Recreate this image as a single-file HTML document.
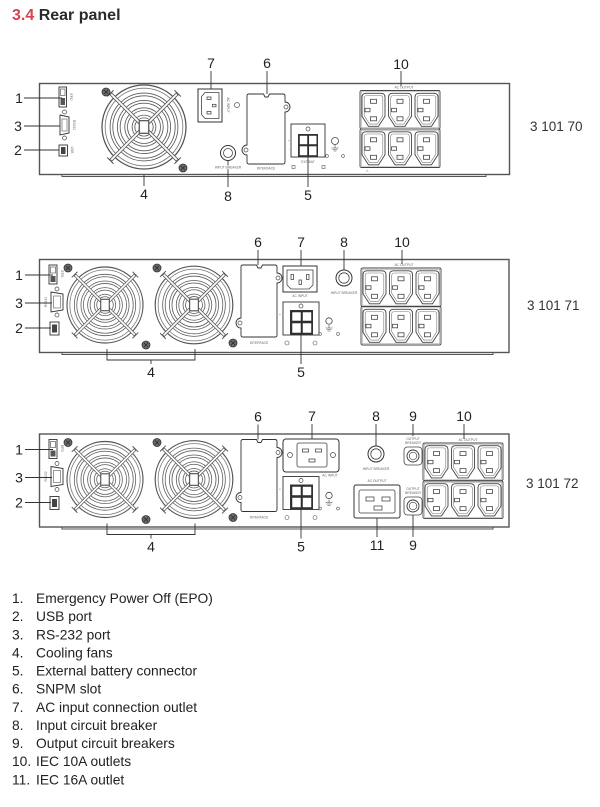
<!DOCTYPE html>
<html><head><meta charset="utf-8">
<style>
html,body{margin:0;padding:0;background:#fff;width:600px;height:807px;overflow:hidden}
svg{display:block}
.lb{font-size:14px;fill:#222;text-anchor:middle}
.tn{font-size:3.3px;fill:#666;text-anchor:middle}
.ln{stroke:#333;stroke-width:0.9;fill:none}
.li{font-size:13.8px;fill:#222}
</style></head><body>
<svg width="600" height="807" viewBox="0 0 600 807" xmlns="http://www.w3.org/2000/svg" font-family="Liberation Sans, Arial, sans-serif">
<defs>
 <g id="fan">
  <circle r="40" fill="#fff" stroke="#555" stroke-width="1.2"/>
  <circle r="37" fill="none" stroke="#777" stroke-width="0.8"/>
  <g fill="none" stroke="#5a5a5a" stroke-width="3.4">
   <circle r="31"/><circle r="24"/><circle r="17"/><circle r="10"/>
  </g>
  <g fill="none" stroke="#fff" stroke-width="1.8">
   <circle r="31"/><circle r="24"/><circle r="17"/><circle r="10"/>
  </g>
  <g stroke="#5a5a5a" stroke-width="3.4">
   <line x1="-32" y1="-32" x2="32" y2="32"/><line x1="32" y1="-32" x2="-32" y2="32"/>
  </g>
  <g stroke="#fff" stroke-width="1.8">
   <line x1="-31.3" y1="-31.3" x2="31.3" y2="31.3"/><line x1="31.3" y1="-31.3" x2="-31.3" y2="31.3"/>
  </g>
  <g stroke="#555" stroke-width="1">
   <line x1="-35" y1="-29" x2="-29" y2="-35"/><line x1="35" y1="29" x2="29" y2="35"/>
   <line x1="35" y1="-29" x2="29" y2="-35"/><line x1="-35" y1="29" x2="-29" y2="35"/>
  </g>
  <rect x="-4.5" y="-6" width="9" height="12" fill="#fff" stroke="#555" stroke-width="1.2"/>
 </g>
 <g id="screw"><circle r="4" fill="#6a6a6a" stroke="#333" stroke-width="0.8"/><path d="M-2,-2 L2,2 M2,-2 L-2,2" stroke="#222" stroke-width="0.6"/></g>
 <g id="c13">
  <path d="M4,0 H19 Q23,0 23,4 V23 L16.5,33 H6.5 L0,23 V4 Q0,0 4,0 Z" fill="#fff" stroke="#444" stroke-width="0.9"/>
  <path d="M5,2.2 H18 Q20.8,2.2 20.8,5 V22.4 L15.4,30.8 H7.6 L2.2,22.4 V5 Q2.2,2.2 5,2.2 Z" fill="none" stroke="#777" stroke-width="0.6"/>
  <g fill="#fff" stroke="#444" stroke-width="0.8">
   <rect x="8.5" y="6" width="6" height="4"/>
   <rect x="3" y="15" width="5" height="3.5"/>
   <rect x="8.5" y="23.5" width="6" height="4"/>
  </g>
 </g>
 <g id="orow">
  <rect x="0" y="0" width="80" height="38.5" rx="1.5" fill="#fff" stroke="#444" stroke-width="0.9"/>
  <rect x="1.3" y="1.3" width="77.4" height="35.9" fill="none" stroke="#999" stroke-width="0.5"/>
  <use href="#c13" x="2" y="2.8"/>
  <use href="#c13" x="28.5" y="2.8"/>
  <use href="#c13" x="55" y="2.8"/>
 </g>
 <!-- shared left part for panels 2 & 3 (panel 2 coordinates) -->
 <g id="lp">
  <rect x="39.5" y="259.5" width="469.5" height="93" fill="#fff" stroke="#555" stroke-width="1.4"/>
  <path d="M62,352.5 V354.5 H493 V352.5" fill="none" stroke="#555" stroke-width="1"/>
  <!-- EPO -->
  <rect x="49" y="265" width="8" height="19" fill="#fff" stroke="#333" stroke-width="0.9"/>
  <rect x="50.5" y="267" width="5" height="6" fill="#fff" stroke="#444" stroke-width="0.6"/>
  <rect x="50.5" y="276" width="5" height="6" fill="#555"/>
  <text class="tn" transform="translate(61,274) rotate(90)">EPO</text>
  <line class="ln" x1="25" y1="275" x2="53" y2="275"/>
  <text class="lb" x="19" y="280">1</text>
  <!-- DB9 -->
  <circle cx="57" cy="289" r="2" fill="#fff" stroke="#444" stroke-width="0.7"/>
  <circle cx="57" cy="315" r="2" fill="#fff" stroke="#444" stroke-width="0.7"/>
  <path d="M51,292 L63,294 V310 L51,312 Z" fill="#fff" stroke="#333" stroke-width="0.9"/>
  <rect x="53.5" y="296" width="7" height="12" fill="none" stroke="#555" stroke-width="0.6"/>
  <text class="tn" transform="translate(47,302) rotate(-90)">RS232</text>
  <line class="ln" x1="25" y1="303" x2="52" y2="303"/>
  <text class="lb" x="19" y="308">3</text>
  <!-- USB -->
  <rect x="50" y="322" width="9" height="13" fill="#fff" stroke="#333" stroke-width="0.9"/>
  <rect x="52" y="324.5" width="5" height="8" fill="#444"/>
  <line class="ln" x1="25" y1="328" x2="51" y2="328"/>
  <text class="lb" x="19" y="333">2</text>
  <!-- fans -->
  <use href="#fan" transform="translate(105,305) scale(0.95)"/>
  <use href="#fan" transform="translate(194,305) scale(0.97)"/>
  <use href="#screw" x="68" y="268"/>
  <use href="#screw" x="146" y="345"/>
  <use href="#screw" x="157" y="268"/>
  <use href="#screw" x="233" y="343"/>
  <path class="ln" d="M107,349 V360 H195 V349 M151,360 V364"/>
  <text class="lb" x="151" y="377">4</text>
  <!-- slot -->
  <path d="M243,265 H256.5 L258,268 H261 L262.5,265 H275 Q277,265 277,267 V273 A5,5 0 0 1 277,283 V335 Q277,337 275,337 H243 Q241,337 241,335 V328 A5,5 0 0 1 241,318 V267 Q241,265 243,265 Z" fill="#fff" stroke="#333" stroke-width="0.9"/>
  <circle cx="278" cy="278" r="2" fill="#fff" stroke="#444" stroke-width="0.7"/>
  <circle cx="240" cy="323" r="2" fill="#fff" stroke="#444" stroke-width="0.7"/>
  <text class="tn" x="259" y="344">INTERFACE</text>
  <line class="ln" x1="258" y1="250" x2="258" y2="265"/>
  <text class="lb" x="258" y="247">6</text>
  <!-- battery -->
  <text class="tn" x="280" y="316">+</text>
  <text class="tn" x="280" y="326">-</text>
  <rect x="283" y="302" width="36" height="33" fill="#fff" stroke="#333" stroke-width="0.9"/>
  <circle cx="301" cy="306" r="2" fill="#fff" stroke="#444" stroke-width="0.7"/>
  <rect x="290" y="310" width="23" height="25" fill="#333"/>
  <g fill="#fff" stroke="#222" stroke-width="0.5">
   <rect x="292" y="312" width="9" height="9"/><rect x="302.5" y="312" width="9" height="9"/>
   <rect x="292" y="323" width="9" height="10"/><rect x="302.5" y="323" width="9" height="10"/>
  </g>
  <line class="ln" x1="301" y1="335" x2="301" y2="364"/>
  <text class="lb" x="301" y="377">5</text>
  <!-- ground -->
  <circle cx="329" cy="321" r="3.2" fill="#fff" stroke="#444" stroke-width="0.8"/>
  <path d="M329,325 V328 M325.5,328 H332.5 M326.5,329.5 H331.5 M327.5,331 H330.5" stroke="#444" stroke-width="0.6"/>
  <circle cx="320" cy="334" r="1.4" fill="none" stroke="#555" stroke-width="0.6"/>
  <circle cx="338" cy="334" r="1.4" fill="none" stroke="#555" stroke-width="0.6"/>
  <circle cx="287" cy="343" r="2" fill="none" stroke="#555" stroke-width="0.6"/>
  <circle cx="315" cy="343" r="2" fill="none" stroke="#555" stroke-width="0.6"/>
 </g>
</defs>

<!-- Title -->
<text x="12" y="20" font-size="16" font-weight="bold"><tspan fill="#d6434d">3.4</tspan><tspan fill="#2a2a2a"> Rear panel</tspan></text>

<!-- ================= PANEL 1 ================= -->
<rect x="39.5" y="83.5" width="470" height="91" fill="#fff" stroke="#555" stroke-width="1.4"/>
<path d="M62,174.5 V176.5 H486 V174.5" fill="none" stroke="#555" stroke-width="1"/>
<!-- EPO -->
<rect x="59" y="87" width="7.5" height="20" fill="#fff" stroke="#333" stroke-width="0.9"/>
<rect x="60.5" y="89" width="4.5" height="6.5" fill="#fff" stroke="#444" stroke-width="0.6"/>
<rect x="60.5" y="98" width="4.5" height="7" fill="#555"/>
<text class="tn" transform="translate(70,97) rotate(90)">EPO</text>
<line class="ln" x1="24" y1="98" x2="62" y2="98"/>
<text class="lb" x="19" y="103">1</text>
<!-- DB9 -->
<circle cx="64.5" cy="112" r="2" fill="#fff" stroke="#444" stroke-width="0.7"/>
<circle cx="64.5" cy="138" r="2" fill="#fff" stroke="#444" stroke-width="0.7"/>
<path d="M60,115 L69,117 V133 L60,135 Z" fill="#fff" stroke="#333" stroke-width="0.9"/>
<rect x="62" y="119" width="5" height="12" fill="none" stroke="#555" stroke-width="0.6"/>
<text class="tn" transform="translate(73,125) rotate(90)">RS232</text>
<line class="ln" x1="24" y1="126" x2="60" y2="126"/>
<text class="lb" x="18" y="131">3</text>
<!-- USB -->
<rect x="59" y="145" width="8.5" height="11" fill="#fff" stroke="#333" stroke-width="0.9"/>
<rect x="61" y="147" width="4.5" height="7" fill="#444"/>
<text class="tn" transform="translate(71,150) rotate(90)">USB</text>
<line class="ln" x1="24" y1="150" x2="59" y2="150"/>
<text class="lb" x="18" y="155">2</text>
<!-- fan -->
<use href="#fan" transform="translate(144,127) scale(1.05)"/>
<use href="#screw" x="106" y="92"/>
<use href="#screw" x="183" y="168"/>
<line class="ln" x1="144" y1="175" x2="144" y2="186"/>
<text class="lb" x="144" y="199">4</text>
<!-- AC input 7 -->
<rect x="198" y="89" width="24" height="33" fill="#fff" stroke="#333" stroke-width="1"/>
<path d="M205,92.5 H219 V118.5 H205 L201.5,114.5 V96.5 Z" fill="#fff" stroke="#444" stroke-width="0.8"/>
<g fill="#fff" stroke="#333" stroke-width="0.7">
 <rect x="207" y="97" width="4" height="2.5"/><rect x="207" y="111.5" width="4" height="2.5"/><rect x="212.5" y="104.3" width="3.5" height="2.5"/>
</g>
<text class="tn" transform="translate(227,105) rotate(90)">AC INPUT</text>
<circle cx="237" cy="105" r="2.5" fill="#fff" stroke="#555" stroke-width="0.7"/>
<line class="ln" x1="211" y1="71" x2="211" y2="89"/>
<text class="lb" x="211" y="68">7</text>
<!-- breaker 8 -->
<circle cx="228" cy="153" r="7.5" fill="#fff" stroke="#333" stroke-width="1"/>
<circle cx="228" cy="153" r="4.5" fill="none" stroke="#444" stroke-width="0.8"/>
<line class="ln" x1="228" y1="161" x2="228" y2="187"/>
<text class="tn" x="228" y="168.5" style="paint-order:stroke" stroke="#fff" stroke-width="1.2">INPUT BREAKER</text>
<text class="lb" x="228" y="201">8</text>
<!-- slot 6 -->
<path d="M249,94 H263.5 L265,97 H268 L269.5,94 H283 Q285,94 285,96 V102 A5,5 0 0 1 285,112 V162 Q285,164 283,164 H249 Q247,164 247,162 V155 A5,5 0 0 1 247,145 V96 Q247,94 249,94 Z" fill="#fff" stroke="#333" stroke-width="0.9"/>
<circle cx="286" cy="107" r="2" fill="#fff" stroke="#444" stroke-width="0.7"/>
<circle cx="246" cy="150" r="2" fill="#fff" stroke="#444" stroke-width="0.7"/>
<text class="tn" x="266" y="169.5">INTERFACE</text>
<text class="tn" x="289" y="142">+</text>
<text class="tn" x="289" y="150">-</text>
<line class="ln" x1="267" y1="71" x2="267" y2="94"/>
<text class="lb" x="267" y="68">6</text>
<!-- battery 5 -->
<rect x="291" y="124" width="34" height="33" fill="#fff" stroke="#333" stroke-width="0.9"/>
<circle cx="308" cy="129" r="2" fill="#fff" stroke="#444" stroke-width="0.7"/>
<rect x="298" y="134" width="20" height="23" fill="#333"/>
<g fill="#fff" stroke="#222" stroke-width="0.5">
 <rect x="299.5" y="135.5" width="8" height="9"/><rect x="308.8" y="135.5" width="8" height="9"/>
 <rect x="299.5" y="146" width="8" height="9.5"/><rect x="308.8" y="146" width="8" height="9.5"/>
</g>
<text class="tn" x="308" y="163">EXT BAT</text>
<rect x="292" y="165.5" width="3" height="3" fill="none" stroke="#555" stroke-width="0.6"/>
<rect x="322" y="165.5" width="3" height="3" fill="none" stroke="#555" stroke-width="0.6"/>
<line class="ln" x1="308" y1="157" x2="308" y2="187"/>
<text class="lb" x="308" y="200">5</text>
<!-- ground -->
<circle cx="335" cy="141" r="3.5" fill="#fff" stroke="#444" stroke-width="0.8"/>
<path d="M335,145 V148 M331.5,148 H338.5 M332.5,149.5 H337.5 M333.5,151 H336.5" stroke="#444" stroke-width="0.6"/>
<circle cx="327" cy="156" r="1.4" fill="none" stroke="#555" stroke-width="0.6"/>
<circle cx="343" cy="156" r="1.4" fill="none" stroke="#555" stroke-width="0.6"/>
<!-- outlets 10 -->
<text class="tn" x="404" y="88.5">AC OUTPUT</text>
<use href="#orow" x="360" y="90.5"/>
<use href="#orow" x="360" y="129"/>
<text class="tn" x="367" y="172">⚠ </text>
<line class="ln" x1="401" y1="71" x2="401" y2="86"/>
<text class="lb" x="401" y="69">10</text>
<text x="530" y="131" font-size="13.5" fill="#333">3 101 70</text>

<!-- ================= PANEL 2 ================= -->
<use href="#lp"/>
<!-- AC input 7 -->
<rect x="283" y="266" width="34" height="26" fill="#fff" stroke="#333" stroke-width="1"/>
<path d="M287,270 H313 V285 L309,289 H291 L287,285 Z" fill="#fff" stroke="#444" stroke-width="0.8"/>
<g fill="#fff" stroke="#333" stroke-width="0.7">
 <rect x="291" y="274.5" width="2.5" height="5"/><rect x="306.5" y="274.5" width="2.5" height="5"/><rect x="299" y="280" width="2.5" height="4.5"/>
</g>
<text class="tn" x="300" y="297">AC INPUT</text>
<line class="ln" x1="301" y1="250" x2="301" y2="266"/>
<text class="lb" x="301" y="247">7</text>
<!-- breaker 8 -->
<circle cx="344" cy="278" r="8" fill="#fff" stroke="#333" stroke-width="1"/>
<circle cx="344" cy="278" r="5.2" fill="none" stroke="#444" stroke-width="0.8"/>
<text class="tn" x="344" y="294">INPUT BREAKER</text>
<line class="ln" x1="344" y1="250" x2="344" y2="270"/>
<text class="lb" x="344" y="247">8</text>
<!-- outlets -->
<text class="tn" x="404" y="266">AC OUTPUT</text>
<use href="#orow" x="361" y="268"/>
<use href="#orow" x="361" y="306.5"/>
<line class="ln" x1="402" y1="250" x2="402" y2="264"/>
<text class="lb" x="402" y="247">10</text>
<text x="527" y="310" font-size="13.5" fill="#333">3 101 71</text>

<!-- ================= PANEL 3 ================= -->
<use href="#lp" transform="translate(0,174.5)"/>
<!-- AC input 7 (C20) -->
<rect x="283" y="439" width="56" height="33" rx="3" fill="#fff" stroke="#333" stroke-width="1"/>
<rect x="297" y="443" width="30" height="24" rx="2" fill="#fff" stroke="#444" stroke-width="0.8"/>
<circle cx="290" cy="455" r="2.5" fill="#fff" stroke="#444" stroke-width="0.7"/>
<circle cx="333" cy="455" r="2.5" fill="#fff" stroke="#444" stroke-width="0.7"/>
<g fill="#fff" stroke="#333" stroke-width="0.7">
 <rect x="302.5" y="449" width="6" height="3"/><rect x="315.5" y="449" width="6" height="3"/><rect x="309" y="459" width="6" height="3"/>
</g>
<text class="tn" x="330" y="476.5">AC INPUT</text>
<line class="ln" x1="312" y1="424" x2="312" y2="439"/>
<text class="lb" x="312" y="421">7</text>
<!-- breaker 8 -->
<circle cx="376" cy="454" r="8" fill="#fff" stroke="#333" stroke-width="1"/>
<circle cx="376" cy="454" r="5.2" fill="none" stroke="#444" stroke-width="0.8"/>
<text class="tn" x="376" y="470">INPUT BREAKER</text>
<line class="ln" x1="376" y1="424" x2="376" y2="446"/>
<text class="lb" x="376" y="421">8</text>
<!-- output breaker top 9 -->
<text class="tn" x="413" y="440">OUTPUT</text>
<text class="tn" x="413" y="444">BREAKER</text>
<rect x="404" y="447" width="18" height="18" rx="3.5" fill="#fff" stroke="#444" stroke-width="0.8"/>
<circle cx="413" cy="456" r="6" fill="#fff" stroke="#333" stroke-width="0.9"/>
<circle cx="413" cy="456" r="3.8" fill="none" stroke="#444" stroke-width="0.7"/>
<line class="ln" x1="413" y1="424" x2="413" y2="436"/>
<text class="lb" x="413" y="421">9</text>
<!-- AC output 16A 11 -->
<text class="tn" x="377" y="482">AC OUTPUT</text>
<rect x="354" y="485" width="46" height="33" rx="2" fill="#fff" stroke="#333" stroke-width="1"/>
<rect x="359" y="490" width="36" height="23" rx="2" fill="#fff" stroke="#444" stroke-width="0.8"/>
<g fill="#fff" stroke="#333" stroke-width="0.7">
 <rect x="366" y="497" width="8" height="4"/><rect x="382" y="497" width="8" height="4"/><rect x="374" y="506" width="8" height="4"/>
</g>
<line class="ln" x1="377" y1="518" x2="377" y2="537"/>
<text class="lb" x="377" y="550">11</text>
<!-- output breaker bottom 9 -->
<text class="tn" x="413" y="490">OUTPUT</text>
<text class="tn" x="413" y="494">BREAKER</text>
<rect x="404" y="497" width="18" height="18" rx="3.5" fill="#fff" stroke="#444" stroke-width="0.8"/>
<circle cx="413" cy="506" r="6" fill="#fff" stroke="#333" stroke-width="0.9"/>
<circle cx="413" cy="506" r="3.8" fill="none" stroke="#444" stroke-width="0.7"/>
<line class="ln" x1="413" y1="515" x2="413" y2="537"/>
<text class="lb" x="413" y="550">9</text>
<!-- outlets 10 -->
<text class="tn" x="468" y="441">AC OUTPUT</text>
<use href="#orow" transform="translate(423,443) scale(1,0.975)"/>
<use href="#orow" transform="translate(423,481) scale(1,0.975)"/>
<line class="ln" x1="464" y1="424" x2="464" y2="439"/>
<text class="lb" x="464" y="421">10</text>
<text x="526" y="488" font-size="13.5" fill="#333">3 101 72</text>

<!-- ================= LIST ================= -->
<g class="li">
 <text x="12" y="603">1.</text><text x="36" y="603">Emergency Power Off (EPO)</text>
 <text x="12" y="621.1">2.</text><text x="36" y="621.1">USB port</text>
 <text x="12" y="639.3">3.</text><text x="36" y="639.3">RS-232 port</text>
 <text x="12" y="657.4">4.</text><text x="36" y="657.4">Cooling fans</text>
 <text x="12" y="675.5">5.</text><text x="36" y="675.5">External battery connector</text>
 <text x="12" y="693.7">6.</text><text x="36" y="693.7">SNPM slot</text>
 <text x="12" y="711.8">7.</text><text x="36" y="711.8">AC input connection outlet</text>
 <text x="12" y="729.9">8.</text><text x="36" y="729.9">Input circuit breaker</text>
 <text x="12" y="748">9.</text><text x="36" y="748">Output circuit breakers</text>
 <text x="12" y="766.2">10.</text><text x="36" y="766.2">IEC 10A outlets</text>
 <text x="12" y="784.3">11.</text><text x="36" y="784.3">IEC 16A outlet</text>
</g>
</svg>
</body></html>
